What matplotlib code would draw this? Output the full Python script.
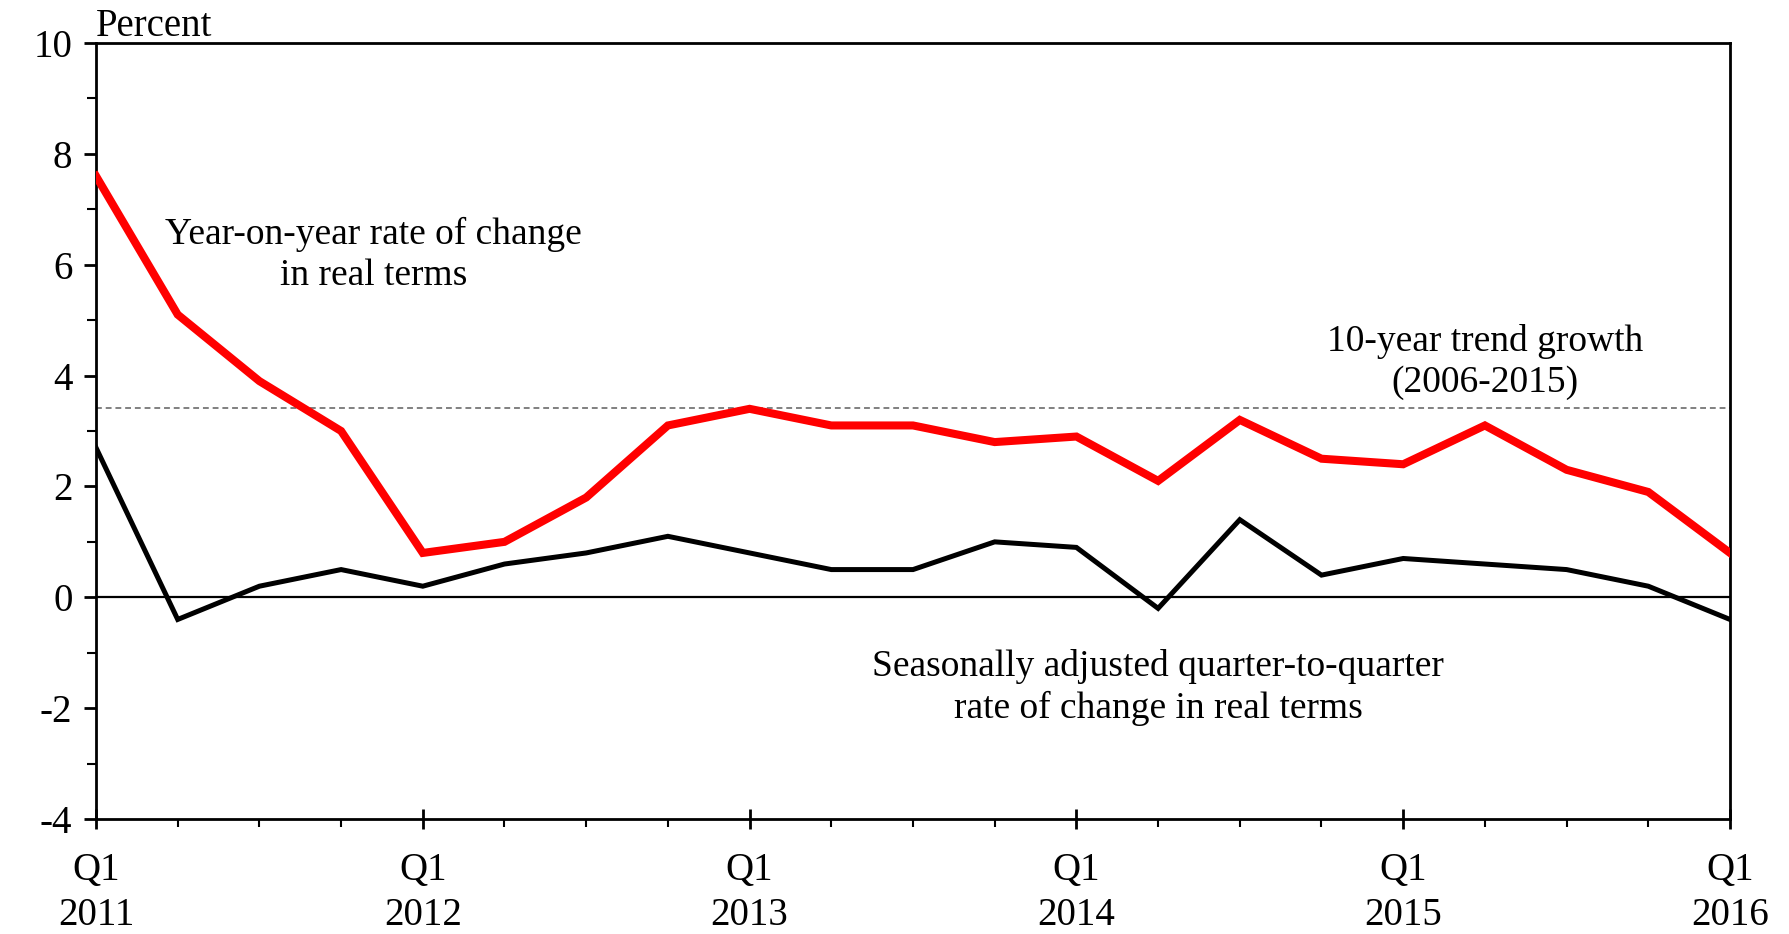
import numpy as np
import matplotlib.pyplot as plt

# Datos trimestrales, Q1 2011 a Q1 2016
trimestres = np.arange(21)
anual = [7.6, 5.1, 3.9, 3.0, 0.8, 1.0, 1.8, 3.1, 3.4, 3.1, 3.1,
         2.8, 2.9, 2.1, 3.2, 2.5, 2.4, 3.1, 2.3, 1.9, 0.8]
trimestral = [2.7, -0.4, 0.2, 0.5, 0.2, 0.6, 0.8, 1.1, 0.8, 0.5, 0.5,
              1.0, 0.9, -0.2, 1.4, 0.4, 0.7, 0.6, 0.5, 0.2, -0.4]
tendencia = 3.42
etiquetas_x = ["Q1\n2011", "Q1\n2012", "Q1\n2013", "Q1\n2014", "Q1\n2015", "Q1\n2016"]
valores_y = np.arange(-4, 11, 2)

plt.rcParams['font.family'] = ['Liberation Serif', 'DejaVu Serif']

fig = plt.figure(figsize=(17.9, 9.34), dpi=100)
ax = fig.add_axes([96 / 1790, 1 - 819 / 934, (1730 - 96) / 1790, (819 - 43) / 934])

ax.axhline(0, color='black', lw=1.6, zorder=1)
ax.axhline(tendencia, color='#808080', lw=1.4, ls=(0, (3, 2)), zorder=1)
ax.plot(trimestres, trimestral, color='black', lw=3.6, solid_joinstyle='miter', zorder=3)
ax.plot(trimestres, anual, color='#ff0000', lw=5.8, solid_joinstyle='miter', zorder=4)

ax.set_xlim(0, 20)
ax.set_ylim(-4, 10)
ax.set_yticks(valores_y)
ax.set_yticklabels([str(v) for v in valores_y])
ax.set_yticks(np.arange(-3, 10, 2), minor=True)
ax.set_xticks(np.arange(0, 21, 4))
ax.set_xticks(trimestres, minor=True)
ax.set_xticklabels(etiquetas_x)

ax.tick_params(axis='y', which='major', direction='out', length=9, width=2, labelsize=28, pad=8)
ax.tick_params(axis='y', which='minor', direction='out', length=6.5, width=1.5)
ax.tick_params(axis='x', which='major', direction='inout', length=15, width=2, labelsize=28, pad=16)
ax.tick_params(axis='x', which='minor', direction='out', length=6, width=1.5)
for lbl in ax.get_xticklabels():
    lbl.set_linespacing(1.3)

for s in ax.spines.values():
    s.set_linewidth(2)

ax.text(0.0, 0.997, "Percent", transform=ax.transAxes, fontsize=28, ha='left', va='bottom')
ax.text(3.4, 6.18, "Year-on-year rate of change\nin real terms", fontsize=27,
        ha='center', va='center', linespacing=1.25)
ax.text(17.0, 4.25, "10-year trend growth\n(2006-2015)", fontsize=27,
        ha='center', va='center', linespacing=1.25)
ax.text(13.0, -1.62, "Seasonally adjusted quarter-to-quarter\nrate of change in real terms", fontsize=27,
        ha='center', va='center', linespacing=1.25)

fig.savefig("out.png", dpi=100)
